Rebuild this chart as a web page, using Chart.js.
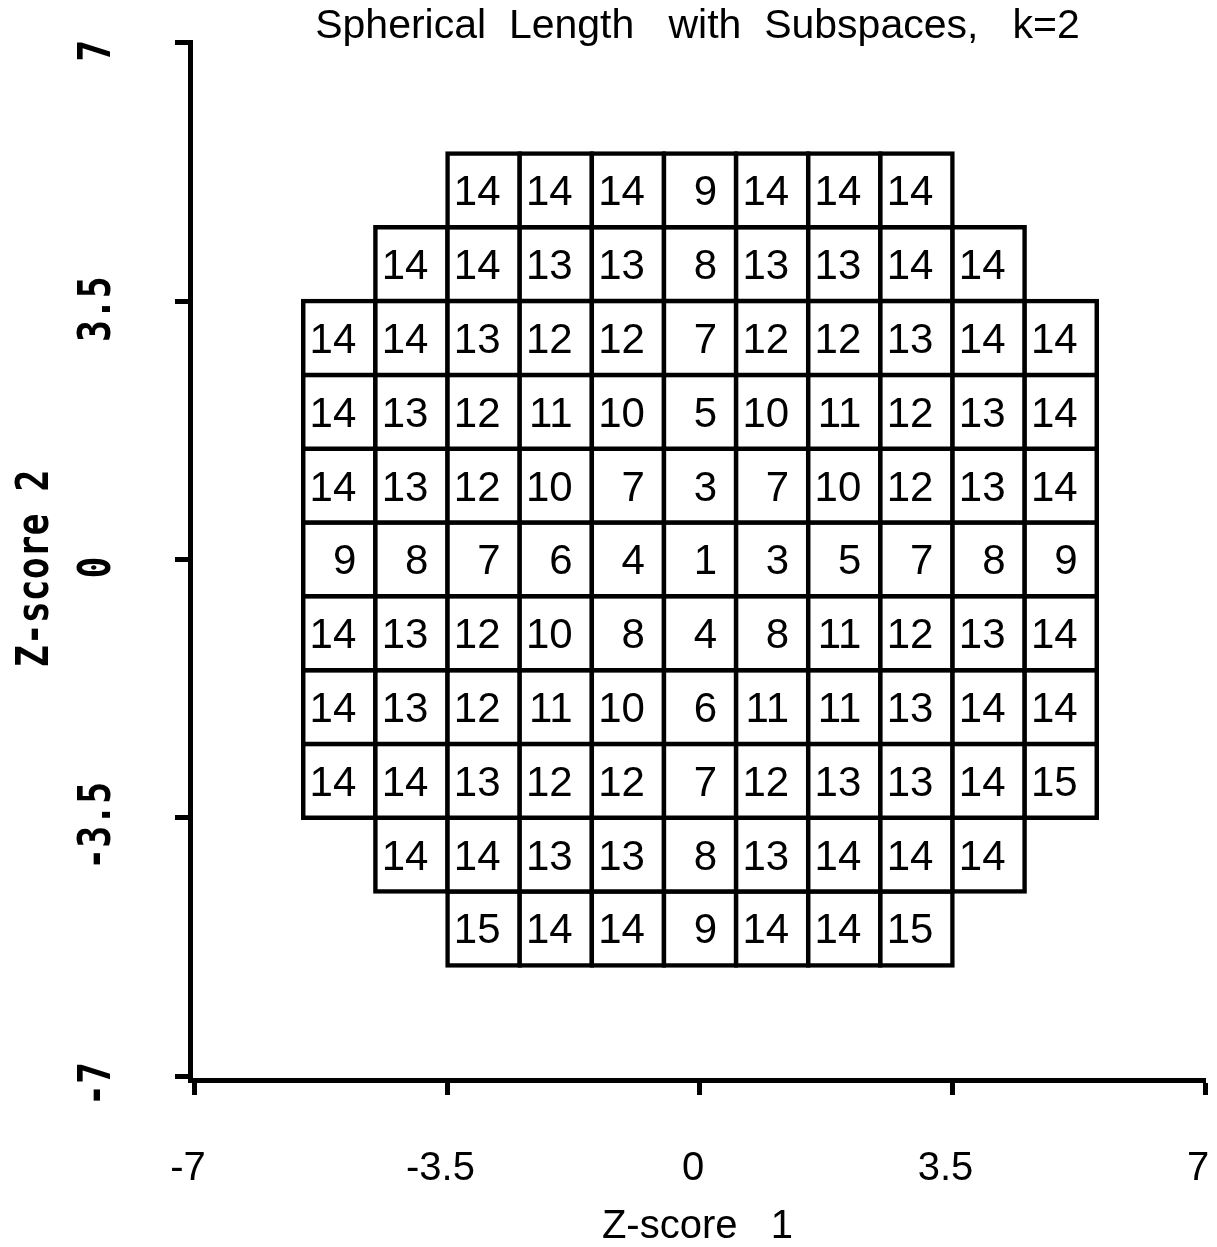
<!DOCTYPE html>
<html>
<head>
<meta charset="utf-8">
<script src="https://cdn.jsdelivr.net/npm/chart.js@4.4.1/dist/chart.umd.min.js"></script>
<style>
html,body{margin:0;padding:0;background:#fff;}
canvas{display:block;}
</style>
</head>
<body>
<canvas id="c" width="1217" height="1247"></canvas>
<script>
// ---- data ----
const chartTitle = 'Spherical  Length   with  Subspaces,   k=2';
const xAxisTitle = 'Z-score   1';
const yAxisTitle = 'Z-score 2';
const xTickValues = [-7, -3.5, 0, 3.5, 7];
const xTickLabels = ['-7', '-3.5', '0', '3.5', '7'];
const yTickValues = [-7, -3.5, 0, 3.5, 7];
const yTickLabels = ['-7', '-3.5', '0', '3.5', '7'];
const columnCenters = [-5, -4, -3, -2, -1, 0, 1, 2, 3, 4, 5];
const rowCenters = [5, 4, 3, 2, 1, 0, -1, -2, -3, -4, -5];
const rowP5 = [null, null, 14, 14, 14, 9, 14, 14, 14, null, null];
const rowP4 = [null, 14, 14, 13, 13, 8, 13, 13, 14, 14, null];
const rowP3 = [14, 14, 13, 12, 12, 7, 12, 12, 13, 14, 14];
const rowP2 = [14, 13, 12, 11, 10, 5, 10, 11, 12, 13, 14];
const rowP1 = [14, 13, 12, 10, 7, 3, 7, 10, 12, 13, 14];
const row0  = [9, 8, 7, 6, 4, 1, 3, 5, 7, 8, 9];
const rowM1 = [14, 13, 12, 10, 8, 4, 8, 11, 12, 13, 14];
const rowM2 = [14, 13, 12, 11, 10, 6, 11, 11, 13, 14, 14];
const rowM3 = [14, 14, 13, 12, 12, 7, 12, 13, 13, 14, 15];
const rowM4 = [null, 14, 14, 13, 13, 8, 13, 14, 14, 14, null];
const rowM5 = [null, null, 15, 14, 14, 9, 14, 14, 15, null, null];
const rowSeries = [rowP5, rowP4, rowP3, rowP2, rowP1, row0, rowM1, rowM2, rowM3, rowM4, rowM5];
const cellHalf = 0.5;

// ---- styles ----
const SANS = '"Liberation Sans", Arial, sans-serif';
const MONO = '"DejaVu Sans Mono", monospace';

const datasets = rowSeries.map((vals, ri) => ({
  type: 'bar',
  label: 'row ' + rowCenters[ri],
  data: columnCenters
    .map((c, ci) => vals[ci] == null ? null : { x: c, y: [rowCenters[ri] - cellHalf, rowCenters[ri] + cellHalf], v: vals[ci] })
    .filter(Boolean),
  backgroundColor: '#ffffff',
  borderColor: '#000000',
  borderWidth: 4.5,
  inflateAmount: 2.25,
  borderSkipped: false,
  barPercentage: 1,
  categoryPercentage: 1,
  grouped: false
}));

const cellLabelPlugin = {
  id: 'cellLabels',
  afterDatasetsDraw(chart) {
    const ctx = chart.ctx;
    ctx.save();
    ctx.font = '42px ' + SANS;
    ctx.fillStyle = '#000';
    ctx.textAlign = 'right';
    ctx.textBaseline = 'alphabetic';
    chart.data.datasets.forEach((ds, i) => {
      const meta = chart.getDatasetMeta(i);
      meta.data.forEach((el, j) => {
        const d = ds.data[j];
        const cy = (el.y + el.base) / 2;
        ctx.fillText(String(d.v), el.x + 17, cy + 15);
      });
    });
    ctx.restore();
  }
};

const yAxisTextPlugin = {
  id: 'yAxisText',
  afterDraw(chart) {
    const ctx = chart.ctx;
    const ys = chart.scales.y;
    const area = chart.chartArea;
    ctx.save();
    ctx.fillStyle = '#000';
    ctx.font = 'bold 45px ' + MONO;
    ctx.textAlign = 'center';
    ctx.textBaseline = 'alphabetic';
    yTickValues.forEach((v, i) => {
      const py = ys.getPixelForValue(v);
      ctx.save();
      ctx.translate(110, py + 8);
      ctx.rotate(-Math.PI / 2);
      ctx.scale(0.81, 1);
      ctx.fillText(yTickLabels[i], 0, 0);
      ctx.restore();
    });
    ctx.save();
    ctx.translate(48, (area.top + area.bottom) / 2 + 7);
    ctx.rotate(-Math.PI / 2);
    ctx.scale(0.81, 1);
    ctx.fillText(yAxisTitle, 0, 0);
    ctx.restore();
    ctx.restore();
  }
};

new Chart(document.getElementById('c'), {
  type: 'bar',
  data: { datasets },
  plugins: [cellLabelPlugin, yAxisTextPlugin],
  options: {
    responsive: false,
    devicePixelRatio: 1,
    animation: false,
    layout: { padding: { left: 0, right: 12, top: 0, bottom: 0 } },
    plugins: {
      legend: { display: false },
      tooltip: { enabled: false },
      title: {
        display: true,
        text: chartTitle,
        fullSize: false,
        color: '#000',
        font: { family: SANS, size: 41, weight: 'normal', lineHeight: 0.8 },
        padding: { top: 10, bottom: 0 }
      }
    },
    scales: {
      x: {
        type: 'linear',
        position: 'bottom',
        offset: false,
        min: -7.0693,
        max: 7,
        afterBuildTicks: s => { s.ticks = xTickValues.map(v => ({ value: v })); },
        afterFit: s => { s.height = 167; s.paddingLeft = 0; s.paddingRight = 0; },
        ticks: {
          autoSkip: false,
          maxRotation: 0,
          minRotation: 0,
          padding: 50,
          labelOffset: -7,
          color: '#000',
          font: { family: SANS, size: 40, lineHeight: 1.2 },
          callback: v => { const k = xTickValues.indexOf(v); return k >= 0 ? xTickLabels[k] : ''; }
        },
        grid: {
          offset: false,
          drawOnChartArea: false,
          drawTicks: true,
          tickLength: 15,
          tickWidth: 5,
          tickColor: '#000'
        },
        border: { display: true, color: '#000', width: 5 },
        title: {
          display: true,
          text: xAxisTitle,
          color: '#000',
          font: { family: SANS, size: 40, lineHeight: 1 },
          padding: { top: 0, bottom: 0 }
        }
      },
      y: {
        type: 'linear',
        position: 'left',
        min: -7.053,
        max: 7,
        afterBuildTicks: s => { s.ticks = yTickValues.map(v => ({ value: v })); },
        afterFit: s => { s.width = 190; s.paddingTop = 0; s.paddingBottom = 0; },
        ticks: {
          display: false,
          callback: v => { const k = yTickValues.indexOf(v); return k >= 0 ? yTickLabels[k] : ''; }
        },
        grid: {
          drawOnChartArea: false,
          drawTicks: true,
          tickLength: 15,
          tickWidth: 5,
          tickColor: '#000'
        },
        border: { display: true, color: '#000', width: 5 }
      }
    }
  }
});
</script>
</body>
</html>
